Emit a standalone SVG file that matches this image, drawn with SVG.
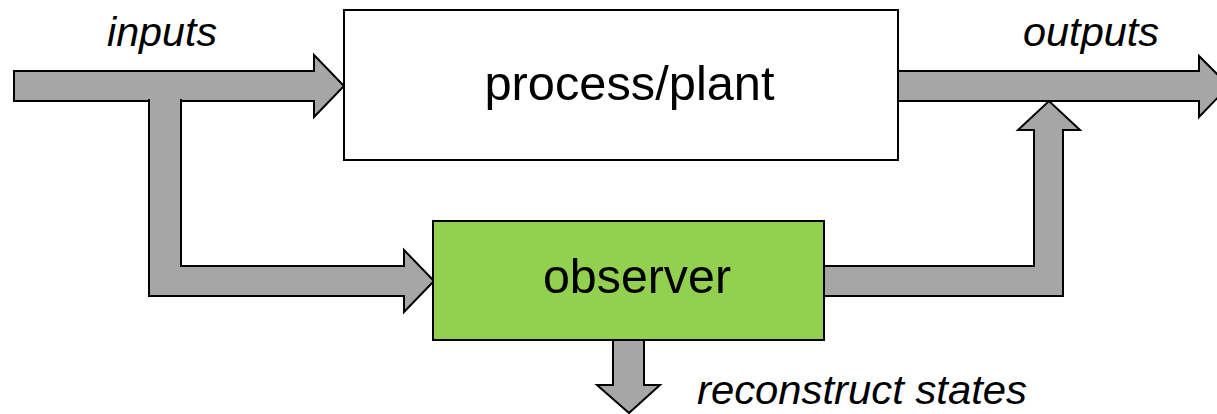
<svg xmlns="http://www.w3.org/2000/svg" width="1217" height="414" viewBox="0 0 1217 414">
<style>
.conn{fill:#a6a6a6;stroke:#000;stroke-width:2;stroke-linejoin:miter}
.box{stroke:#000;stroke-width:2}
.lbl{font-family:"Liberation Sans",Arial,sans-serif;font-size:48px;fill:#000;text-anchor:middle}
.it{font-family:"Liberation Sans",Arial,sans-serif;font-size:41px;font-style:italic;fill:#000}
</style>
<rect width="1217" height="414" fill="#fff"/>
<g id="connectors">
<polygon class="conn" points="14,71 314,71 314,55 344,86 314,117 314,101 14,101"/>
<path class="conn" d="M181,99 V266 H404 V250 L434,281 L404,312 V296 H149 V99"/>
<polygon class="conn" points="890,71 1199,71 1199,56 1229,86 1199,117 1199,101 890,101"/>
<path class="conn" d="M820,266 H1034 V130 H1018 L1049,101 L1080,130 H1063 V296 H820"/>
<path class="conn" d="M613,336 V385 H597 L629,413 L660,385 H644 V336"/>
</g>
<g id="process">
<rect class="box" x="344" y="10" width="554" height="150" fill="#fff"/>
<text class="lbl" x="629.5" y="100" textLength="290" lengthAdjust="spacingAndGlyphs">process/plant</text>
</g>
<g id="observer">
<rect class="box" x="433" y="221" width="391" height="119" fill="#92d050"/>
<text class="lbl" x="637" y="293" textLength="188" lengthAdjust="spacingAndGlyphs">observer</text>
</g>
<g id="labels">
<text class="it" x="107" y="46" textLength="110" lengthAdjust="spacingAndGlyphs">inputs</text>
<text class="it" x="1023" y="46" textLength="136" lengthAdjust="spacingAndGlyphs">outputs</text>
<text class="it" x="697" y="404" textLength="330" lengthAdjust="spacingAndGlyphs">reconstruct states</text>
</g>
</svg>
